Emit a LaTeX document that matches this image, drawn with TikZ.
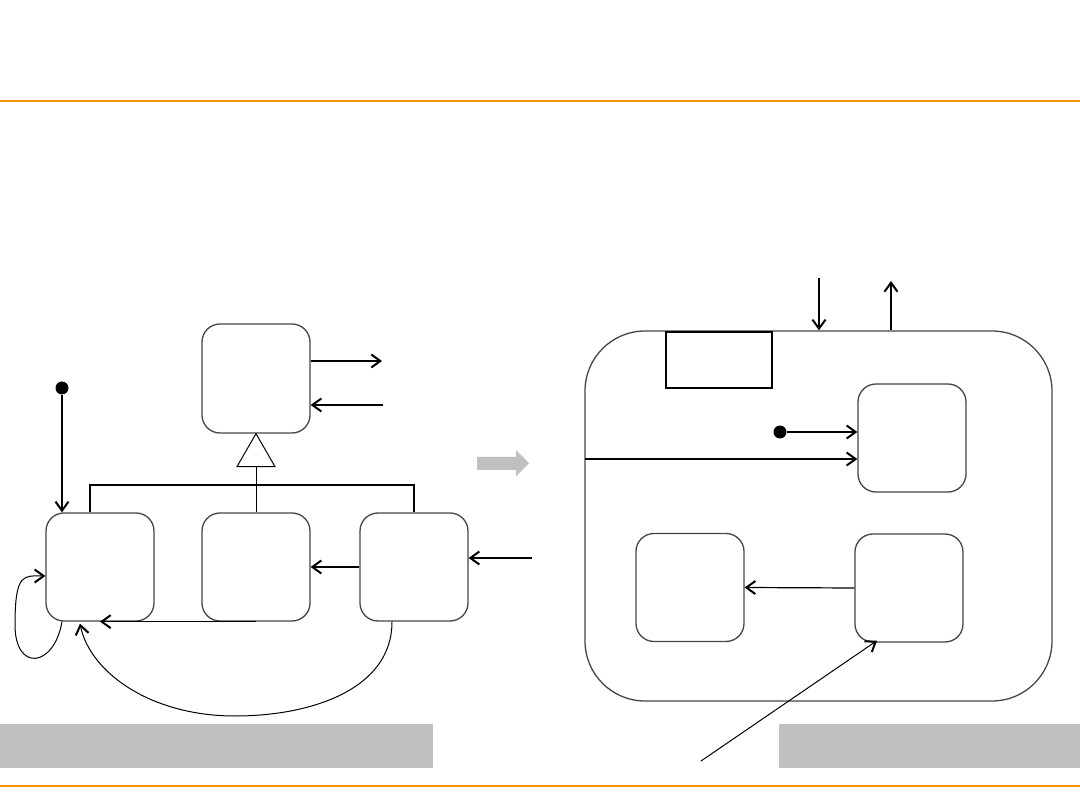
\documentclass[tikz,border=0pt]{standalone}
\usetikzlibrary{arrows.meta,calc}
\definecolor{orng}{RGB}{242,148,0}
\definecolor{bargray}{RGB}{192,192,192}
\definecolor{boxline}{RGB}{70,70,70}
\begin{document}
\begin{tikzpicture}[x=1pt,y=-1pt,
  state/.style={draw=boxline,line width=1.3pt,rounded corners=18pt,minimum width=108pt,minimum height=108pt,inner sep=0pt,fill=white},
  composite/.style={draw=boxline,line width=1.3pt,rounded corners=60pt,minimum width=467pt,minimum height=370pt,inner sep=0pt,fill=white},
  region/.style={draw=black,line width=2pt,minimum width=106pt,minimum height=56pt,inner sep=0pt},
  initdot/.style={circle,fill=black,inner sep=0pt,minimum size=13pt},
  heavy/.style={line width=2pt},
  light/.style={line width=1pt},
  barb/.style={-{Straight Barb[length=9pt,width=13pt,line width=2pt]}},
  band/.style={fill=bargray},
  rule/.style={draw=orng,line width=2pt}
]
\useasboundingbox (0,0) rectangle (1080,810);

% rules and bands
\draw[rule] (0,101.5) -- (1080,101.5);
\draw[rule] (0,786) -- (1080,786);
\fill[band] (0,724) rectangle (433,768);
\fill[band] (779,724) rectangle (1080,768);

% ---------- left diagram ----------
\node[state,minimum height=109pt] (T) at (256,378.5) {};
\node[state] (L) at (100,567) {};
\node[state] (M) at (256,567) {};
\node[state] (R) at (414,567) {};
\node[initdot] (d1) at (62,388) {};

\coordinate (tout) at (382,361);
\coordinate (tin) at (383,405);
\coordinate (rin) at (532,558);

\draw[heavy,barb] (d1) -- (d1 |- L.north);
\draw[heavy,barb] (tout -| T.east) -- (tout);
\draw[heavy,barb] (tin) -- (tin -| T.east);

% generalization
\draw[heavy] ([xshift=-10pt]L.north) -- ++(0,-27) -| (R.north);
\draw[light] ($(T.south)+(0,33)$) -- (M.north);
\draw[light,fill=white] (T.south) -- ++(-19,33) -- ++(38,0) -- cycle;

\draw[heavy,barb] (R.west) -- (M.east);
\draw[heavy,barb] (rin) -- (rin -| R.east);
\draw[line width=1.2pt,barb] (M.south) -- (L.south);

% self loop
\draw[light,barb] ($(L.south)+(-38,0)$) .. controls (54,668) and (15,672) .. (15,625)
   .. controls (15,572) and (24,576) .. ($(L.west)+(0,9)$);
% big curve
\draw[light,barb] ($(R.south)+(-22,0)$) .. controls (392,690) and (310,716) .. (235,716)
   .. controls (150,716) and (90,672) .. ($(L.south)+(-20,2)$);

% gray arrow
\fill[band] (477,457) -- (516,457) -- (516,450) -- (529,463.3) -- (516,476.5) -- (516,470) -- (477,470) -- cycle;

% ---------- right diagram ----------
\node[composite] (C) at (818.5,516) {};
\node[region,anchor=north] (SR) at (719,331) {};
\node[state] (TR) at (912,438) {};
\node[state] (BL) at (690,587.5) {};
\node[state] (BR) at (909,588) {};
\node[initdot] (d2) at (780,432) {};

\coordinate (dn) at (819,278);
\coordinate (up) at (891,281);
\coordinate (hl) at (585,459);
\coordinate (sl) at (701,761);

\draw[heavy,barb] (dn) -- (dn |- C.north);
\draw[heavy,barb] (up |- C.north) -- (up);
\draw[heavy,barb] (d2) -- (d2 -| TR.west);
\draw[heavy,barb] (hl) -- (hl -| TR.west);
\draw[line width=1.2pt,barb] (BR.west) -- (BL.east);
\draw[light,barb] (sl) -- ($(BR.south)+(-32,-2)$);
\end{tikzpicture}
\end{document}
